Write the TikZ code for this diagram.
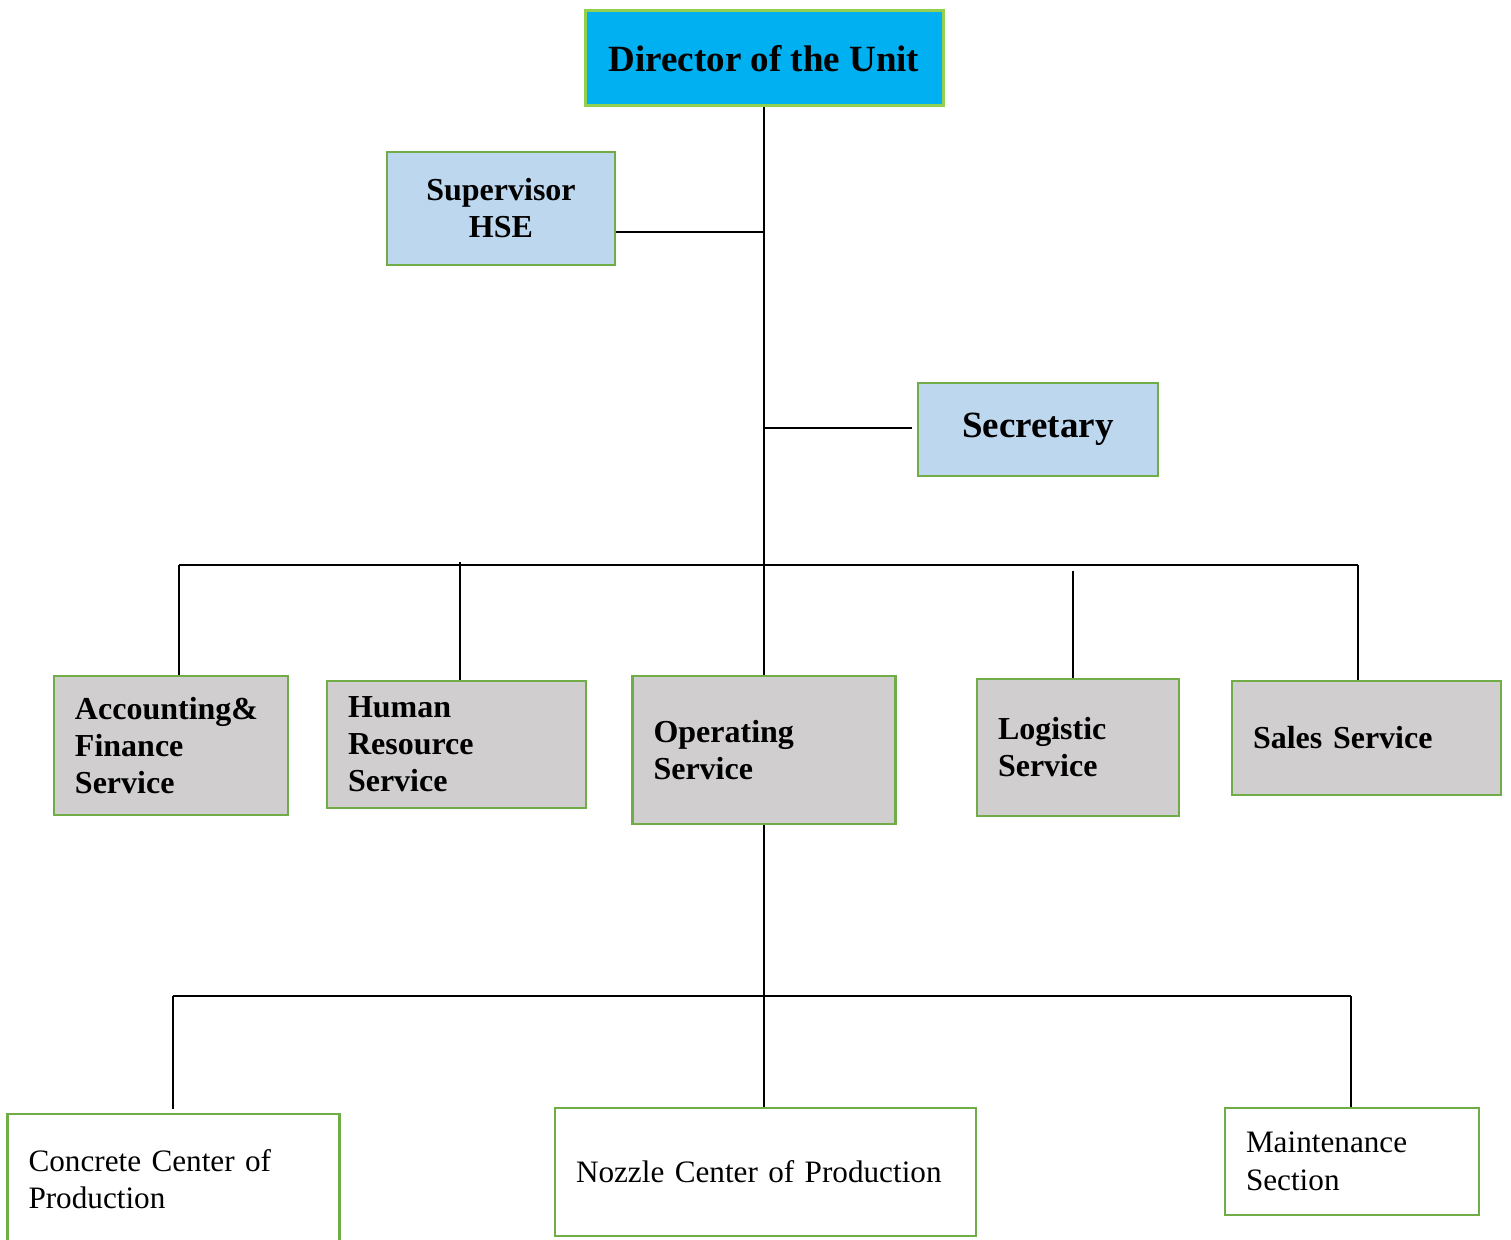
\documentclass[tikz,border=0pt]{standalone}
\usepackage{fontspec}
\setmainfont{Liberation Serif}
\definecolor{dircyan}{HTML}{00B0F0}
\definecolor{lightgreen}{HTML}{92D050}
\definecolor{boxgreen}{HTML}{70AD47}
\definecolor{paleblue}{HTML}{BDD7EE}
\definecolor{boxgrey}{HTML}{D0CECE}
\begin{document}
\begin{tikzpicture}[x=0.5pt,y=-0.5pt,
  unitbox/.style={draw=boxgreen,line width=1.2pt,inner ysep=0pt,inner xsep=10.5pt,
    anchor=center,font=\fontsize{15.6}{18.8}\selectfont},
  topbox/.style={unitbox,fill=dircyan,draw=lightgreen,line width=1.5pt,align=center,
    font=\bfseries\fontsize{18.5}{21}\selectfont},
  staffbox/.style={unitbox,fill=paleblue,align=center,font=\bfseries\fontsize{16}{18.5}\selectfont},
  servicebox/.style={unitbox,fill=boxgrey,align=left,font=\bfseries\fontsize{16}{18.5}\selectfont},
  sectionbox/.style={unitbox,fill=white,align=left},
  link/.style={draw=black,line width=1pt}]
\clip (0,0) rectangle (1511,1240);
\fill[white] (0,0) rectangle (1511,1240);

% top level and staff
\node[topbox,minimum width=179pt,minimum height=47.5pt] (dir) at (764,58.5) {Director of the Unit};
\node[staffbox,minimum width=114pt,minimum height=56.5pt] (hse) at (501,208.5) {Supervisor\\HSE};
\node[staffbox,minimum width=120pt,minimum height=46.5pt,font=\bfseries\fontsize{18.5}{21}\selectfont] (sec) at (1038,429.5) {Secretary};

% services
\node[servicebox,minimum width=117pt,minimum height=69.5pt,text width=96pt] (acc) at (171,745.5) {Accounting\&\\Finance\\Service};
\node[servicebox,minimum width=129.5pt,minimum height=63.5pt,text width=108.5pt] (hr) at (456.5,744.5) {Human\\Resource\\Service};
\node[servicebox,minimum width=131.5pt,minimum height=74pt,text width=110.5pt] (ops) at (764,750) {Operating\\Service};
\node[servicebox,minimum width=101pt,minimum height=68.5pt,text width=80pt] (log) at (1078,747.5) {Logistic\\Service};
\node[servicebox,minimum width=134.5pt,minimum height=57pt,text width=113.5pt] (sal) at (1366.5,738) {Sales Service};

% production units
\node[sectionbox,minimum width=165.5pt,minimum height=65pt,text width=145pt] (con) at (173.5,1179) {Concrete Center of\\Production};
\node[sectionbox,minimum width=210.5pt,minimum height=64pt,text width=189.5pt] (noz) at (765.5,1172) {Nozzle Center of Production};
\node[sectionbox,minimum width=127pt,minimum height=53.5pt,text width=106pt] (mnt) at (1352,1161.5) {Maintenance\\Section};

% junction points
\coordinate (hseJ) at (764,232);
\coordinate (secJ) at (764,428);
\coordinate (busL) at (179,565);
\coordinate (busR) at (1358,565);
\coordinate (hrT) at (460,562);
\coordinate (logT) at (1073,571);
\coordinate (bus2L) at (173,996);
\coordinate (bus2R) at (1351,996);

% connectors
\draw[link] (dir.south) -- (dir.south |- ops.north);
\draw[link] (hseJ) -- (hseJ -| hse.east);
\draw[link] (secJ) -- ([xshift=-2.5pt]secJ -| sec.west);
\draw[link] (busL) -- (busR);
\draw[link] (busL) -- (busL |- acc.north);
\draw[link] (hrT) -- (hrT |- hr.north);
\draw[link] (logT) -- (logT |- log.north);
\draw[link] (busR) -- (busR |- sal.north);
\draw[link] (ops.south) -- (ops.south |- noz.north);
\draw[link] (bus2L) -- (bus2R);
\draw[link] (bus2L) -- ([yshift=2pt]bus2L |- con.north);
\draw[link] (bus2R) -- (bus2R |- mnt.north);
\end{tikzpicture}
\end{document}
